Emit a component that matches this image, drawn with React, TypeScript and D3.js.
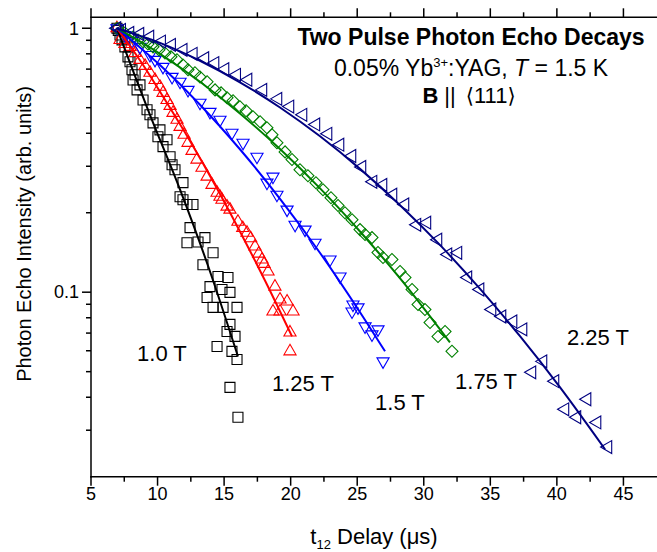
import React from 'react';
import * as d3 from 'd3';

// ---------- data (t12 in µs, normalized echo intensity) ----------
const fieldLabels = ['1.0 T', '1.25 T', '1.5 T', '1.75 T', '2.25 T'];

const data10T: [number, number][] = [
  [6.95, 1.0], [7.05, 0.98], [7.18, 0.943], [7.33, 0.903], [7.55, 0.85], [7.78, 0.779], [7.93, 0.746],
  [8.08, 0.696], [8.16, 0.637], [8.31, 0.666], [8.46, 0.584], [8.68, 0.61], [8.91, 0.535], [9.21, 0.491],
  [9.43, 0.47], [9.66, 0.438], [10.03, 0.388], [10.18, 0.412], [10.41, 0.356], [10.71, 0.378], [10.94, 0.326],
  [11.09, 0.304], [11.31, 0.291], [11.69, 0.23], [11.91, 0.26], [11.91, 0.224], [12.21, 0.215], [12.44, 0.1757],
  [12.66, 0.215], [12.21, 0.154], [13.04, 0.155], [13.56, 0.161], [13.41, 0.127], [14.17, 0.141], [14.84, 0.1024],
  [13.94, 0.105], [14.54, 0.1147], [15.29, 0.1137], [15.44, 0.0998], [13.72, 0.0955], [14.17, 0.0876],
  [14.92, 0.0876], [15.97, 0.0876], [15.44, 0.0755], [15.22, 0.071], [15.82, 0.068], [15.59, 0.0597],
  [15.97, 0.0556], [14.47, 0.0623], [15.44, 0.0436], [16.04, 0.0336],
];
const fit10T: [number, number][] = [
  [6.95, 1.0], [9.43, 0.47], [11.69, 0.2446], [13.94, 0.1198], [16.04, 0.0571],
];

const data125T: [number, number][] = [
  [6.95, 1.0], [7.18, 0.903], [7.55, 0.872], [7.93, 0.85], [8.31, 0.806], [8.68, 0.759], [9.06, 0.72],
  [9.43, 0.678], [9.81, 0.637], [10.18, 0.6], [10.41, 0.569], [10.71, 0.535], [10.94, 0.508], [11.16, 0.478],
  [11.46, 0.45], [11.69, 0.423], [11.99, 0.395], [12.29, 0.368], [12.59, 0.343], [12.96, 0.318], [13.34, 0.296],
  [13.72, 0.274], [14.09, 0.255], [14.47, 0.238], [14.69, 0.23], [14.84, 0.224], [15.22, 0.211], [15.44, 0.2055],
  [16.04, 0.185], [16.4, 0.175], [16.72, 0.168], [17.0, 0.16], [17.32, 0.149], [17.6, 0.14], [17.85, 0.133],
  [18.0, 0.128], [18.3, 0.1198], [18.82, 0.105], [19.2, 0.0938], [19.73, 0.0922], [20.18, 0.0845],
  [18.67, 0.0845], [19.2, 0.0845], [19.95, 0.0704], [19.95, 0.0597],
];
const fit125T: [number, number][] = [
  [6.95, 1.0], [8.73, 0.75], [10.56, 0.5355], [12.44, 0.3738], [14.32, 0.2548], [16.19, 0.1699],
  [18.07, 0.1107], [20.1, 0.068],
];

const data15T: [number, number][] = [
  [6.95, 1.0], [7.55, 0.943], [8.08, 0.895], [8.68, 0.85], [9.43, 0.792], [9.81, 0.759], [10.41, 0.714],
  [11.09, 0.654], [11.69, 0.627], [12.29, 0.584], [13.19, 0.522], [13.94, 0.482], [14.69, 0.45], [15.59, 0.402],
  [16.42, 0.368], [17.47, 0.326], [18.22, 0.26], [18.67, 0.274], [18.97, 0.234], [19.73, 0.2055], [20.33, 0.18],
  [21.08, 0.1726], [21.83, 0.154], [22.96, 0.133], [23.71, 0.1147], [24.68, 0.0898], [25.06, 0.0876],
  [24.61, 0.0845], [25.59, 0.0742], [26.56, 0.0723], [26.11, 0.0692], [26.94, 0.0547],
];
const fit15T: [number, number][] = [
  [6.95, 1.0], [10.18, 0.7249], [13.19, 0.5131], [16.19, 0.3479], [19.2, 0.2259], [22.21, 0.1408],
  [25.21, 0.084], [27.09, 0.0597],
];

const data175T: [number, number][] = [
  [6.95, 1.0], [7.55, 0.96], [8.16, 0.927], [8.53, 0.903], [8.91, 0.888], [9.28, 0.872], [9.66, 0.85],
  [10.11, 0.828], [10.56, 0.806], [11.01, 0.779], [11.46, 0.759], [11.91, 0.726], [12.29, 0.696], [12.81, 0.678],
  [13.19, 0.654], [13.72, 0.627], [14.32, 0.584], [14.77, 0.569], [15.22, 0.545], [15.67, 0.531], [16.19, 0.504],
  [16.65, 0.487], [17.17, 0.462], [17.7, 0.442], [18.22, 0.42], [18.6, 0.395], [18.97, 0.368], [19.58, 0.34],
  [20.1, 0.318], [20.7, 0.291], [21.3, 0.276], [21.9, 0.26], [22.43, 0.2446], [23.03, 0.228], [23.56, 0.213],
  [24.08, 0.2], [24.61, 0.188], [25.21, 0.1726], [25.59, 0.1653], [26.11, 0.161], [26.56, 0.1413],
  [26.94, 0.1353], [27.61, 0.133], [28.22, 0.1198], [28.59, 0.1137], [29.12, 0.1024], [29.57, 0.0898],
  [30.09, 0.086], [30.47, 0.0768], [31.07, 0.068], [31.6, 0.071], [32.12, 0.0597],
];
const fit175T: [number, number][] = [
  [6.95, 1.0], [10.18, 0.8], [13.19, 0.627], [16.19, 0.4756], [19.2, 0.3485], [22.21, 0.2473],
  [25.21, 0.1698], [28.22, 0.1128], [31.97, 0.0645],
];

const data225T: [number, number][] = [
  [6.95, 1.0], [7.31, 0.985], [7.93, 0.96], [8.68, 0.951], [9.43, 0.929], [10.31, 0.89], [11.06, 0.865],
  [11.93, 0.828], [12.69, 0.8], [13.56, 0.77], [14.32, 0.738], [15.07, 0.7], [15.95, 0.666], [16.8, 0.638],
  [17.92, 0.584], [19.05, 0.54], [19.95, 0.505], [20.93, 0.47], [21.9, 0.432], [22.81, 0.398], [23.71, 0.362],
  [24.61, 0.328], [25.36, 0.298], [26.19, 0.262], [26.94, 0.255], [27.69, 0.234], [28.59, 0.215], [29.49, 0.18],
  [30.24, 0.1835], [31.07, 0.158], [31.82, 0.139], [32.57, 0.141], [33.32, 0.1137], [34.23, 0.1024],
  [35.13, 0.086], [35.88, 0.0809], [36.71, 0.0775], [37.46, 0.0723], [38.96, 0.0547], [38.13, 0.0497],
  [39.86, 0.046], [42.27, 0.0393], [40.61, 0.036], [41.51, 0.0336], [43.02, 0.0321], [43.84, 0.0259],
];
const fit225T: [number, number][] = [
  [6.9, 1.0], [10.18, 0.88], [13.19, 0.753], [16.19, 0.624], [19.2, 0.501], [22.21, 0.3895], [25.21, 0.2932],
  [28.22, 0.2136], [31.23, 0.1507], [34.23, 0.1029], [37.23, 0.0681], [40.24, 0.0436], [43.62, 0.0254],
];

// annotation anchors in data coordinates (t, intensity)
const labelAnchors: [number, number][] = [
  [8.46, 0.0547], [18.6, 0.0421], [26.34, 0.0357], [32.35, 0.0429], [40.76, 0.0629],
];

const xMajorTicks = [5, 10, 15, 20, 25, 30, 35, 40, 45];
const xMinorTicks = [7.5, 12.5, 17.5, 22.5, 27.5, 32.5, 37.5, 42.5];
const yMajorTicks = [0.1, 1];
const yMinorTicks = [0.03, 0.04, 0.05, 0.06, 0.07, 0.08, 0.09, 0.2, 0.3, 0.4, 0.5, 0.6, 0.7, 0.8, 0.9];

const FONT = "'Liberation Sans', Arial, Helvetica, sans-serif";

type Marker = 'square' | 'up' | 'down' | 'diamond' | 'left';

const seriesList: { data: [number, number][]; fit: [number, number][]; color: string; marker: Marker }[] = [
  { data: data10T, fit: fit10T, color: '#000000', marker: 'square' },
  { data: data125T, fit: fit125T, color: '#ff0000', marker: 'up' },
  { data: data15T, fit: fit15T, color: '#0000ff', marker: 'down' },
  { data: data175T, fit: fit175T, color: '#008000', marker: 'diamond' },
  { data: data225T, fit: fit225T, color: '#000080', marker: 'left' },
];

function markerPath(m: Marker): { d: string; rot: number } {
  if (m === 'square') return { d: d3.symbol().type(d3.symbolSquare).size(100)() as string, rot: 0 };
  if (m === 'diamond') return { d: d3.symbol().type(d3.symbolSquare).size(72)() as string, rot: 45 };
  if (m === 'left') return { d: d3.symbol().type(d3.symbolTriangle).size(72)() as string, rot: -90 };
  const tri = d3.symbol().type(d3.symbolTriangle).size(64)() as string;
  if (m === 'up') return { d: tri, rot: 0 };
  return { d: tri, rot: 180 };
}

export default function App() {
  const W = 657, H = 552;
  const x = d3.scaleLinear().domain([5, 47.5]).range([91, 656.7]);
  const y = d3.scaleLog().domain([0.02, 1.1]).range([476.7, 17.3]);
  const [x0] = x.range();
  const yBot = y.range()[0];
  const yTop = y.range()[1];

  const line = d3.line<[number, number]>()
    .x(d => x(d[0]))
    .y(d => y(d[1]))
    .curve(d3.curveMonotoneX);

  const bracket = "'DejaVu Sans', sans-serif";

  return (
    <svg width={W} height={H} style={{ position: 'absolute', left: 0, top: 0, background: '#fff' }}
      fontFamily={FONT}>
      <rect x={0} y={0} width={W} height={H} fill="#fff" />
      {/* markers */}
      {seriesList.map((s, si) => {
        const mp = markerPath(s.marker);
        return (
          <g key={'m' + si}>
            {s.data.map((d, i) => (
              <path key={i} d={mp.d}
                transform={`translate(${x(d[0])},${y(d[1])}) rotate(${mp.rot})`}
                fill="none" stroke={s.color} strokeWidth={1.1} />
            ))}
          </g>
        );
      })}
      {/* fit lines */}
      {seriesList.map((s, si) => (
        <path key={'f' + si} d={line(s.fit) as string} fill="none" stroke={s.color} strokeWidth={2} />
      ))}

      {/* axes */}
      <g stroke="#000" strokeWidth={1.5} fill="none">
        <line x1={x0} x2={x0} y1={yTop} y2={yBot + 0.75} />
        <line x1={x0 - 0.75} x2={W} y1={yBot} y2={yBot} />
        <line x1={x0 - 0.75} x2={W} y1={yTop} y2={yTop} />
        {xMajorTicks.map(t => (
          <g key={'xm' + t}>
            <line x1={x(t)} x2={x(t)} y1={yBot} y2={yBot + 9} />
            <line x1={x(t)} x2={x(t)} y1={yTop} y2={yTop - 9} />
          </g>
        ))}
        {xMinorTicks.map(t => (
          <g key={'xn' + t}>
            <line x1={x(t)} x2={x(t)} y1={yBot} y2={yBot + 5} />
            <line x1={x(t)} x2={x(t)} y1={yTop} y2={yTop - 5} />
          </g>
        ))}
        {yMajorTicks.map(v => (
          <line key={'ym' + v} x1={x0} x2={x0 - 9} y1={y(v)} y2={y(v)} />
        ))}
        {yMinorTicks.map(v => (
          <line key={'yn' + v} x1={x0} x2={x0 - 5} y1={y(v)} y2={y(v)} />
        ))}
      </g>

      {/* tick labels */}
      <g fontSize={18} fill="#000">
        {xMajorTicks.map(t => (
          <text key={'xl' + t} x={x(t)} y={500} textAnchor="middle">{t}</text>
        ))}
        {yMajorTicks.map(v => (
          <text key={'yl' + v} x={x0 - 12} y={y(v)} dy="0.35em" textAnchor="end">{v}</text>
        ))}
      </g>

      {/* axis titles */}
      <text x={374} y={544} textAnchor="middle" fontSize={22}>
        t<tspan fontSize={13} dy={5}>12</tspan><tspan dy={-5}> Delay (μs)</tspan>
      </text>
      <text transform="translate(31,234) rotate(-90)" textAnchor="middle" fontSize={20}>
        Photon Echo Intensity (arb. units)
      </text>

      {/* title block */}
      <text x={471} y={45} textAnchor="middle" fontSize={23} fontWeight="bold">Two Pulse Photon Echo Decays</text>
      <text x={471} y={76} textAnchor="middle" fontSize={23}>
        0.05% Yb<tspan fontSize={13} dy={-9}>3+</tspan><tspan dy={9}>:YAG, </tspan>
        <tspan fontStyle="italic">T</tspan><tspan> = 1.5 K</tspan>
      </text>
      <text x={469} y={103} textAnchor="middle" fontSize={22}>
        <tspan fontWeight="bold">B</tspan><tspan dx={6}>||</tspan>
        <tspan dx={10} fontFamily={bracket} fontSize={21}>⟨</tspan>111<tspan fontFamily={bracket} fontSize={21}>⟩</tspan>
      </text>

      {/* field labels */}
      <g fontSize={22} fill="#000">
        {fieldLabels.map((l, i) => (
          <text key={l} x={x(labelAnchors[i][0])} y={y(labelAnchors[i][1])}>{l}</text>
        ))}
      </g>
    </svg>
  );
}
